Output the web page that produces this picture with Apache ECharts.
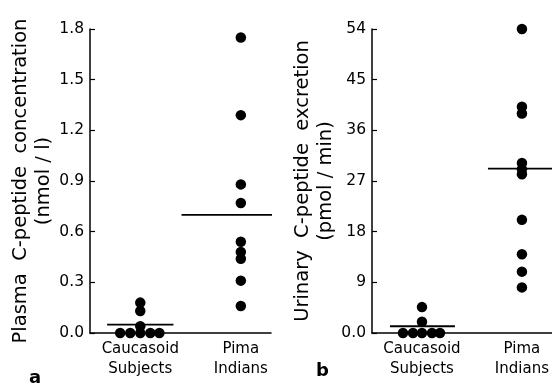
<!DOCTYPE html>
<html>
<head>
<meta charset="utf-8">
<script src="https://cdn.jsdelivr.net/npm/echarts@6/dist/echarts.min.js"></script>
<style>
  html, body { margin: 0; padding: 0; background: #fff; }
  #chart { width: 552px; height: 385px; }
</style>
</head>
<body>
<div id="chart"></div>
<script>
const categories = ["Caucasoid\nSubjects", "Pima\nIndians"];

// panel a: plasma C-peptide (nmol/l)
const plasmaCaucasoid = [0.18, 0.13, 0.04, 0, 0, 0, 0, 0];
const plasmaCaucasoidJitter = [0, 0, 0, -0.2, -0.1, 0, 0.1, 0.19];
const plasmaPima = [1.75, 1.29, 0.88, 0.77, 0.54, 0.48, 0.44, 0.31, 0.16];
const plasmaMeans = [0.05, 0.70];
const plasmaTicks = [0, 0.3, 0.6, 0.9, 1.2, 1.5, 1.8];

// panel b: urinary C-peptide excretion (pmol/min)
const urinaryCaucasoid = [4.6, 2.0, 0, 0, 0, 0, 0];
const urinaryCaucasoidJitter = [0, 0, -0.19, -0.09, 0, 0.1, 0.18];
const urinaryPima = [54, 40.2, 39.0, 30.2, 29.1, 28.2, 20.1, 14.0, 10.9, 8.1];
const urinaryMeans = [1.2, 29.2];
const urinaryTicks = [0, 9, 18, 27, 36, 45, 54];

// mean bar extents around each group (x units)
const meanSpanA = [[-0.33, 0.33], [-0.59, 0.31]];
const meanSpanB = [[-0.32, 0.33], [-0.34, 0.31]];

const FONT = "DejaVu Sans";
const chart = echarts.init(document.getElementById("chart"), null, { renderer: "canvas" });

function xAxisFor(gridIndex) {
  return {
    type: "value", gridIndex, min: 0.5, max: 2.3,
    splitLine: { show: false },
    axisLine: { lineStyle: { color: "#000", width: 1.5 } },
    axisTick: { show: false },
    axisLabel: {
      customValues: [1, 2],
      formatter: (v) => categories[Math.round(v) - 1] || "",
      color: "#000", fontFamily: FONT, fontSize: 15, lineHeight: 20, margin: 6
    }
  };
}

function yAxisFor(gridIndex, ticks, name, fmt, gap) {
  return {
    type: "value", gridIndex,
    min: ticks[0], max: ticks[ticks.length - 1], interval: ticks[1] - ticks[0],
    splitLine: { show: false },
    axisLine: { show: true, lineStyle: { color: "#000", width: 1.5 } },
    axisTick: { show: true, inside: true, length: 5, lineStyle: { color: "#000", width: 1.2 } },
    axisLabel: { color: "#000", fontFamily: FONT, fontSize: 15.5, margin: 6, formatter: fmt },
    name,
    nameLocation: "middle",
    nameRotate: 90,
    nameGap: gap,
    nameTextStyle: { color: "#000", fontFamily: FONT, fontSize: 19.5, lineHeight: 23, align: "center" }
  };
}

function dots(xi, yi, cat, values, jitter) {
  return {
    type: "scatter", xAxisIndex: xi, yAxisIndex: yi, clip: false,
    symbolSize: 10.5, itemStyle: { color: "#000", opacity: 1 },
    data: values.map((v, i) => [cat + (jitter ? jitter[i] : 0), v])
  };
}

function meanBar(xi, yi, cat, mean, span) {
  return {
    type: "line", xAxisIndex: xi, yAxisIndex: yi, clip: false,
    symbol: "none", lineStyle: { color: "#000", width: 1.8 },
    data: [[cat + span[0], mean], [cat + span[1], mean]]
  };
}

chart.setOption({
  backgroundColor: "#fff",
  animation: false,
  title: [
    { text: "a", left: 24, top: 364, textStyle: { fontFamily: FONT, fontSize: 18, fontWeight: "bold", color: "#000" } },
    { text: "b", left: 311, top: 357, textStyle: { fontFamily: FONT, fontSize: 18, fontWeight: "bold", color: "#000" } }
  ],
  grid: [
    { left: 90, top: 29, width: 181, height: 304 },
    { left: 372, top: 29, width: 180, height: 304 }
  ],
  xAxis: [xAxisFor(0), xAxisFor(1)],
  yAxis: [
    yAxisFor(0, plasmaTicks, "Plasma  C-peptide  concentration\n(nmol / l)", (v) => v.toFixed(1), 35),
    yAxisFor(1, urinaryTicks, "Urinary  C-peptide  excretion\n(pmol / min)", (v) => (v === 0 ? "0.0" : String(v)), 29)
  ],
  series: [
    dots(0, 0, 1, plasmaCaucasoid, plasmaCaucasoidJitter),
    dots(0, 0, 2, plasmaPima),
    meanBar(0, 0, 1, plasmaMeans[0], meanSpanA[0]),
    meanBar(0, 0, 2, plasmaMeans[1], meanSpanA[1]),
    dots(1, 1, 1, urinaryCaucasoid, urinaryCaucasoidJitter),
    dots(1, 1, 2, urinaryPima),
    meanBar(1, 1, 1, urinaryMeans[0], meanSpanB[0]),
    meanBar(1, 1, 2, urinaryMeans[1], meanSpanB[1])
  ]
});
</script>
</body>
</html>
